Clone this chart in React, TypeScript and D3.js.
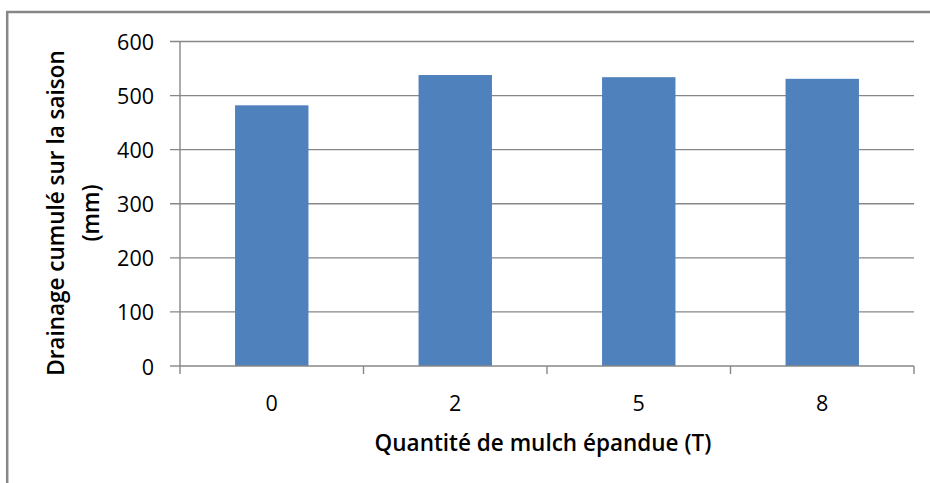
import React from "react";
import * as d3 from "d3";

const categories = ["0", "2", "5", "8"];
const values = [482, 538, 534, 531];
const yTicks = [0, 100, 200, 300, 400, 500, 600];
const yTitleLines = ["Drainage cumulé sur la saison", "(mm)"];
const xTitle = "Quantité de mulch épandue (T)";

const W = 930;
const H = 483;
const left = 180;
const right = 914;
const top = 41.5;
const bottom = 366;
const font = "'Open Sans', 'Noto Sans', sans-serif";
const grid = "#878787";

export default function App() {
  const x = d3
    .scaleBand<string>()
    .domain(categories)
    .range([left, right])
    .paddingInner(0.6)
    .paddingOuter(0.3);
  const y = d3.scaleLinear().domain([0, 600]).range([bottom, top]);
  const step = x.step();
  const boundaries = d3.range(categories.length + 1).map((i) => left + i * step);

  return (
    <svg
      width={W}
      height={H}
      style={{ position: "absolute", left: 0, top: 0, background: "#fff" }}
    >
      <rect x={0} y={0} width={W} height={H} fill="#fff" />
      {/* frame */}
      <line x1={7.2} y1={12} x2={7.2} y2={H} stroke={grid} strokeWidth={2.5} />
      <line x1={6} y1={12} x2={W} y2={12} stroke={grid} strokeWidth={2.5} />

      {/* gridlines + y ticks */}
      {yTicks.map((t) => (
        <g key={t}>
          {t > 0 && (
            <line x1={170} x2={right} y1={y(t)} y2={y(t)} stroke={grid} strokeWidth={1.4} />
          )}
          {t === 0 && (
            <line x1={170} x2={left} y1={y(t)} y2={y(t)} stroke={grid} strokeWidth={1.4} />
          )}
          <text
            x={154}
            y={y(t)}
            textAnchor="end"
            dominantBaseline="central"
            fontFamily={font}
            fontSize={21.5}
            fill="#000"
          >
            {t}
          </text>
        </g>
      ))}

      {/* bars */}
      {categories.map((c, i) => (
        <rect
          key={c}
          x={x(c)}
          y={y(values[i])}
          width={x.bandwidth()}
          height={bottom - y(values[i])}
          fill="#4F81BD"
        />
      ))}

      {/* axes */}
      <line x1={left} x2={left} y1={top} y2={bottom} stroke={grid} strokeWidth={1.4} />
      <line x1={left} x2={right} y1={bottom} y2={bottom} stroke={grid} strokeWidth={1.4} />
      {boundaries.map((b, i) => (
        <line key={i} x1={b} x2={b} y1={bottom} y2={bottom + 8} stroke={grid} strokeWidth={1.4} />
      ))}

      {/* x labels */}
      {categories.map((c) => (
        <text
          key={c}
          x={(x(c) as number) + x.bandwidth() / 2}
          y={402}
          textAnchor="middle"
          dominantBaseline="central"
          fontFamily={font}
          fontSize={21.5}
          fill="#000"
        >
          {c}
        </text>
      ))}

      {/* x title */}
      <text
        x={543}
        y={442}
        textAnchor="middle"
        dominantBaseline="central"
        fontFamily={font}
        fontSize={22.5}
        fontWeight={600}
        fill="#000"
      >
        {xTitle}
      </text>

      {/* y title */}
      {yTitleLines.map((l, i) => (
        <text
          key={i}
          transform={`translate(${i === 0 ? 55 : 90},213) rotate(-90)`}
          textAnchor="middle"
          dominantBaseline="central"
          fontFamily={font}
          fontSize={22.5}
          fontWeight={600}
          fill="#000"
        >
          {l}
        </text>
      ))}
    </svg>
  );
}
